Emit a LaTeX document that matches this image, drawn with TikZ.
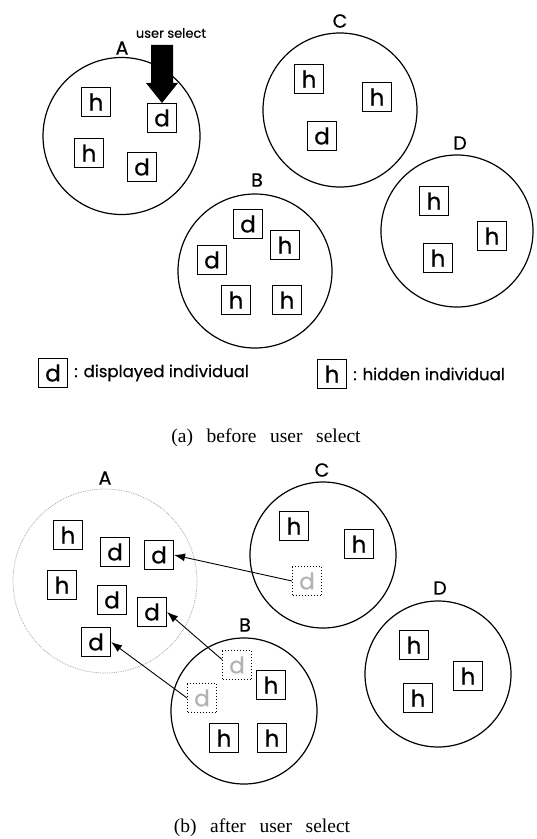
\documentclass[tikz,border=0pt]{standalone}
\usepackage{fontspec}
\setmainfont{Liberation Serif}
\newfontfamily\geo{Poppins}[FakeBold=0.6]
\newfontfamily\geol{Poppins}[FakeBold=0.3]
\usetikzlibrary{arrows.meta}
\tikzset{
  grp/.style={draw, circle, line width=1.2pt, inner sep=0pt},
  grpl/.style={draw=gray!70, circle, line width=0.8pt, densely dotted, inner sep=0pt},
  ind/.style={draw, line width=1.1pt, minimum size=29pt, inner sep=0pt, font=\geo\fontsize{23}{23}\selectfont},
  ghost/.style={draw, line width=1pt, dotted, minimum size=29pt, inner sep=0pt, text=gray!60, font=\geol\fontsize{23}{23}\selectfont},
  lab/.style={font=\geo\fontsize{19}{19}\selectfont, inner sep=0pt},
  legtext/.style={font=\geol\fontsize{16.5}{16.5}\selectfont, anchor=west, inner sep=0pt},
  captxt/.style={font=\fontsize{19.5}{19.5}\selectfont, inner sep=0pt},
  mv/.style={line width=0.9pt, -{Latex[length=11pt,width=8pt]}},
}
\begin{document}
\begin{tikzpicture}[x=1pt,y=-1pt]
\useasboundingbox (0,0) rectangle (537,839);
% ---------- top panel ----------
\node[grp, minimum size=157pt] (cA1) at (121.5,136) {};
\node[grp, minimum size=154pt] (cC1) at (340,110) {};
\node[grp, minimum size=152pt] (cD1) at (457,231) {};
\node[grp, minimum size=154pt] (cB1) at (255,271) {};
\node[lab] (lA1) at (122,48) {A};
\node[lab] (lC1) at (340,21) {C};
\node[lab] (lD1) at (460,143) {D};
\node[lab] (lB1) at (257,180) {B};
% A
\node[ind] (a1) at (96,102) {h};
\node[ind] (a2) at (162,118) {d};
\node[ind] (a3) at (89,153) {h};
\node[ind] (a4) at (142,167) {d};
% C
\node[ind] (c1) at (309,79) {h};
\node[ind] (c2) at (377,97) {h};
\node[ind] (c3) at (322,136) {d};
% D
\node[ind] (d1) at (434,201) {h};
\node[ind] (d2) at (492,236) {h};
\node[ind] (d3) at (438,258) {h};
% B
\node[ind] (b1) at (248,224) {d};
\node[ind] (b2) at (285,245) {h};
\node[ind] (b3) at (212,260) {d};
\node[ind] (b4) at (236,300) {h};
\node[ind] (b5) at (287,300) {h};
% user select arrow
\node[font=\geol\fontsize{13}{13}\selectfont, inner sep=0pt] (us) at (171,33) {user select};
\fill ([xshift=-11pt,yshift=58pt]a2.north) -- ([xshift=11pt,yshift=58pt]a2.north)
  -- ([xshift=11pt,yshift=20pt]a2.north) -- ([xshift=16pt,yshift=20pt]a2.north)
  -- (a2.north) -- ([xshift=-16pt,yshift=20pt]a2.north)
  -- ([xshift=-11pt,yshift=20pt]a2.north) -- cycle;
% legend
\node[ind] (ld) at (53,373) {d};
\node[legtext] (ldt) at ([xshift=6pt]ld.east) {: displayed individual};
\node[ind] (lh) at (332,374) {h};
\node[legtext] (lht) at ([xshift=6pt]lh.east) {: hidden individual};
\node[captxt] (capa) at (266,438) {(a)\hspace{0.7em}before\hspace{0.7em}user\hspace{0.7em}select};
% ---------- bottom panel ----------
\node[grpl, minimum size=184pt] (cA2) at (105,581) {};
\node[grp, minimum size=146pt] (cB2) at (244,711) {};
\node[grp, minimum size=146pt] (cC2) at (323,555) {};
\node[grp, minimum size=146pt] (cD2) at (438,674) {};
\node[lab] (lA2) at (105,478) {A};
\node[lab] (lB2) at (245,625) {B};
\node[lab] (lC2) at (322,470) {C};
\node[lab] (lD2) at (440,588) {D};
% A
\node[ind] (A1) at (68,535) {h};
\node[ind] (A2) at (115,552) {d};
\node[ind] (A3) at (159,555) {d};
\node[ind] (A4) at (62,585) {h};
\node[ind] (A5) at (112,600) {d};
\node[ind] (A6) at (152,612) {d};
\node[ind] (A7) at (96,642) {d};
% B
\node[ghost] (B1) at (237,665) {d};
\node[ghost] (B2) at (202,698) {d};
\node[ind] (B3) at (271,685) {h};
\node[ind] (B4) at (224,738) {h};
\node[ind] (B5) at (272,738) {h};
% C
\node[ind] (C1) at (294,526) {h};
\node[ind] (C2) at (359,544) {h};
\node[ghost] (C3) at (307,581) {d};
% D
\node[ind] (D1) at (414,645) {h};
\node[ind] (D2) at (468,676) {h};
\node[ind] (D3) at (418,698) {h};
% moves
\draw[mv] (C3.west) -- (A3.east);
\draw[mv] (B1.160) -- (A6.east);
\draw[mv] (B2.west) -- (A7.east);
\node[captxt] (capb) at (262,828) {(b)\hspace{0.7em}after\hspace{0.7em}user\hspace{0.7em}select};
\end{tikzpicture}
\end{document}
